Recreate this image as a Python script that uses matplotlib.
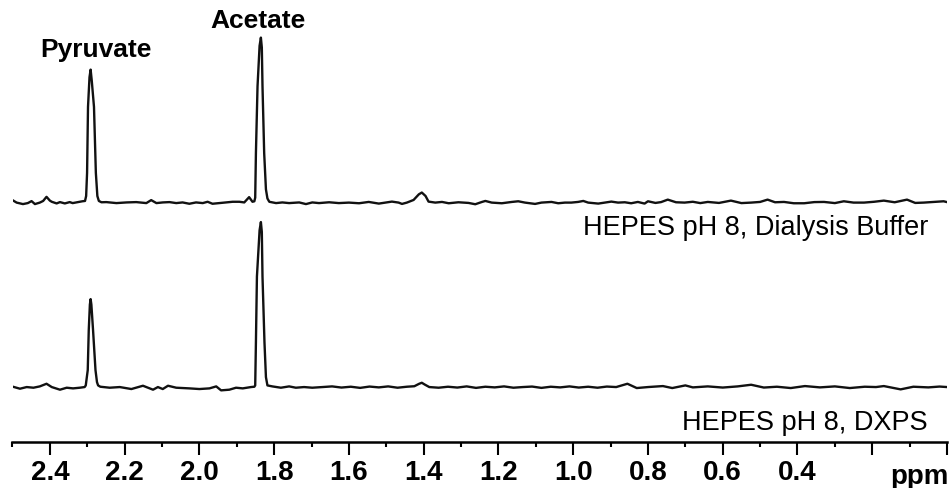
import matplotlib
matplotlib.use("Agg")
import matplotlib.pyplot as plt
import numpy as np
from matplotlib.ticker import MultipleLocator

# spectrum traces (ppm, intensity; acetate peak = 100)
top_ppm = [2.500, 2.489, 2.472, 2.459, 2.449, 2.440, 2.427, 2.418, 2.409, 2.400,
           2.395, 2.382, 2.373, 2.360, 2.347, 2.339, 2.325, 2.313,
           2.306, 2.303, 2.3005, 2.298, 2.294, 2.291, 2.288, 2.282, 2.277, 2.273, 2.269, 2.262,
           2.249, 2.222, 2.195, 2.169, 2.142, 2.129, 2.115, 2.098, 2.080, 2.062,
           2.045, 2.027, 2.009, 1.991, 1.978, 1.965, 1.947, 1.929, 1.911, 1.893,
           1.880, 1.867, 1.858,
           1.853, 1.8507, 1.8488, 1.8445, 1.839, 1.8355, 1.833, 1.8312, 1.8267, 1.822, 1.818, 1.813,
           1.795, 1.778, 1.760, 1.733, 1.715, 1.698, 1.680, 1.653, 1.627, 1.600,
           1.573, 1.547, 1.520, 1.502, 1.485, 1.467, 1.458, 1.445, 1.427,
           1.413, 1.405, 1.395, 1.387, 1.369, 1.351, 1.333, 1.307, 1.280, 1.262,
           1.244, 1.235, 1.218, 1.191, 1.164, 1.147, 1.129, 1.102, 1.085, 1.058,
           1.040, 1.022, 1.005, 0.987, 0.973, 0.960, 0.933, 0.915, 0.898, 0.880,
           0.862, 0.845, 0.827, 0.809, 0.800, 0.780, 0.765, 0.747, 0.725, 0.702,
           0.680, 0.660, 0.640, 0.610, 0.578, 0.550, 0.524, 0.500, 0.480, 0.460,
           0.436, 0.410, 0.382, 0.355, 0.329, 0.300, 0.276, 0.250, 0.222, 0.195,
           0.169, 0.140, 0.107, 0.085, 0.062, 0.035, 0.009, 0.0]
top_int = [1.5, 0.0, -0.9, -0.3, 0.9, -0.9, 0.0, 1.0, 3.5, 1.2,
           0.5, -0.5, 0.3, -0.5, 0.3, -0.3, 0.3, 0.8,
           1.0, 4, 18, 58, 76, 80.6, 74, 58, 18, 4, 1.0, 0.2,
           0.3, -0.3, 0.1, 0.3, -0.3, 1.5, -0.3, 0.1, 0.3, -0.3,
           0.1, -0.7, 0.1, -0.3, 0.5, -0.7, -0.3, 0.1, 0.5, 0.5,
           0.1, 3.3, 0.5,
           0.8, 3, 30, 70.5, 95, 100, 94, 70.5, 30, 8, 2.5, 0.5,
           -0.3, 0.1, -0.3, 0.1, -0.9, 0.1, -0.3, 0.2, -0.3, 0.0,
           -0.4, 0.4, -0.6, 0.0, 0.6, 0.0, -0.8, 0.0, 1.6,
           5.0, 6.1, 4.0, 0.6, 0.0, 0.4, -0.4, 0.2, -0.2, -1.0,
           0.4, 1.0, 0.0, -0.4, 0.4, 0.8, 0.0, -0.8, 0.0, 0.4,
           -0.4, 0.0, 0.0, 0.4, 1.0, 0.0, -0.6, 0.0, 0.6, 0.0,
           0.2, -0.4, 0.4, -0.6, 0.8, -0.2, 0.3, 1.8, 0.2, 0.0,
           0.5, -0.3, 0.4, -0.2, 1.2, -0.3, 0.0, 0.4, 1.8, 0.2,
           0.4, -0.4, -0.4, 0.3, 0.4, -0.3, 0.8, 0.0, 0.0, 0.5,
           1.2, 0.2, 1.8, -0.2, 0.0, 0.4, 0.8, 0.3]

bot_ppm = [2.502, 2.480, 2.462, 2.444, 2.427, 2.409, 2.395, 2.373, 2.355, 2.338,
           2.320, 2.307,
           2.304, 2.2987, 2.296, 2.293, 2.291, 2.289, 2.2845, 2.278, 2.274, 2.271, 2.265,
           2.240, 2.213, 2.182, 2.151, 2.124, 2.111, 2.098, 2.084, 2.062, 2.027,
           2.000, 1.973, 1.955, 1.942, 1.920, 1.902, 1.884, 1.862, 1.853,
           1.8507, 1.8488, 1.8461, 1.839, 1.8355, 1.833, 1.8312, 1.8259, 1.822, 1.818,
           1.805, 1.782, 1.760, 1.742, 1.720, 1.698, 1.671, 1.645, 1.620, 1.595,
           1.570, 1.545, 1.520, 1.495, 1.470, 1.445, 1.425, 1.412, 1.405, 1.397,
           1.385, 1.360, 1.335, 1.310, 1.285, 1.260, 1.235, 1.210, 1.185, 1.160,
           1.135, 1.110, 1.085, 1.060, 1.035, 1.010, 0.985, 0.960, 0.935, 0.910,
           0.885, 0.855, 0.830, 0.800, 0.760, 0.735, 0.700, 0.680, 0.640, 0.600,
           0.560, 0.524, 0.490, 0.455, 0.418, 0.380, 0.340, 0.300, 0.260, 0.220,
           0.190, 0.169, 0.124, 0.090, 0.050, 0.020, 0.0]
bot_int = [0.4, -1.0, 0.0, -0.4, 0.4, 2.0, 0.0, -1.6, -0.4, -0.8,
           -0.4, 0.0,
           1.0, 10.3, 34.5, 50, 53.3, 50, 34.5, 10.3, 3, 1.0, 0.2,
           -0.4, 0.0, -1.2, 0.8, -1.6, 0.0, -1.2, 0.8, -0.4, -0.8,
           -1.2, -0.8, 0.4, -2.0, -1.6, -0.4, -0.8, 0.0, 0.2,
           1.0, 27, 67, 95, 100, 94, 67, 27, 6, 1.0,
           0.4, -0.4, 0.4, -0.4, 0.0, -0.4, 0.0, 0.4, -0.3, 0.2,
           -0.5, 0.3, -0.2, 0.4, -0.4, 0.2, 0.5, 2.0, 2.6, 1.5,
           0.0, -0.4, 0.2, -0.3, 0.4, -0.5, 0.2, -0.2, 0.4, -0.4,
           0.0, 0.3, -0.5, 0.2, -0.2, 0.4, -0.3, 0.2, -0.4, 0.3,
           0.0, 2.0, -0.6, 0.0, 0.6, -0.6, 1.0, -0.2, 0.4, -0.3,
           0.4, 1.4, -0.3, 0.2, -0.6, 0.6, -0.2, 0.4, -0.6, 0.2,
           0.0, 0.6, -1.4, 0.2, -0.2, 0.3, 0.0]

top_offset = 111.8
top_label = "HEPES pH 8, Dialysis Buffer"
bot_label = "HEPES pH 8, DXPS"
peak_names = ["Pyruvate", "Acetate"]

W, H = 950, 489
plt.rcParams['font.family'] = ['Liberation Sans', 'DejaVu Sans']
fig = plt.figure(figsize=(W / 100, H / 100), dpi=100)
ax = fig.add_axes([12.5 / W, (H - 443) / H, (947 - 12.5) / W, 443 / H])

ax.plot(top_ppm, np.array(top_int) + top_offset, color='#111111', lw=1.7)
ax.plot(bot_ppm, bot_int, color='#111111', lw=1.7)

ax.set_xlim(2.5, 0.0)
ax.set_ylim(-33.3, 235.2)

for s in ['top', 'left', 'right']:
    ax.spines[s].set_visible(False)
ax.spines['bottom'].set_linewidth(1.8)
ax.set_yticks([])

major = np.arange(0.0, 2.41, 0.2)
ax.set_xticks(major)
ax.set_xticklabels(["" if v < 0.3 else f"{v:.1f}" for v in major],
                   fontsize=20, fontweight='bold')
ax.xaxis.set_minor_locator(MultipleLocator(0.1))
ax.tick_params(axis='x', which='major', length=9, width=1.5, pad=3)
ax.tick_params(axis='x', which='minor', length=3.5, width=1.5)

def fx(x):
    return x / W

def fy(y):
    return 1 - y / H

fig.text(fx(919), fy(484), "ppm", fontsize=20, fontweight='bold', ha='center', va='baseline')
fig.text(fx(96), fy(50), peak_names[0], fontsize=19, fontweight='bold', ha='center', va='center')
fig.text(fx(258), fy(21), peak_names[1], fontsize=19, fontweight='bold', ha='center', va='center')
fig.text(fx(928), fy(235), top_label, fontsize=19.5, ha='right', va='baseline')
fig.text(fx(928), fy(430), bot_label, fontsize=19.5, ha='right', va='baseline')

fig.savefig("out.png", dpi=100)
